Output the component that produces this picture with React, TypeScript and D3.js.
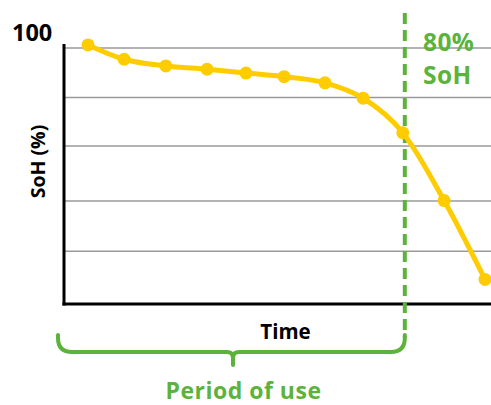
import React from "react";
import * as d3 from "d3";

const timePoints = [0, 0.91, 1.96, 3.0, 3.98, 4.94, 5.97, 6.93, 7.93, 8.97, 10.0];
const sohValues = [101.2, 95.6, 93.0, 91.7, 90.2, 88.8, 86.4, 80.4, 66.9, 40.4, 9.6];
const gridValues = [20.6, 40.2, 61.7, 80.7, 100];
const eolTime = 7.98;

const GREEN = "#5BB33B";
const GOLD = "#FFCC00";
const FONT = "'Open Sans', 'Noto Sans', sans-serif";

export default function App() {
  const W = 491;
  const H = 405;
  const x = d3.scaleLinear().domain([0, 10]).range([88, 485]);
  const y = d3.scaleLinear().domain([0, 100]).range([304, 48]);
  const axisLeft = 64;
  const axisBottom = 304;

  const pts = timePoints.map((t, i) => [x(t), y(sohValues[i])] as [number, number]);
  const line = d3.line().curve(d3.curveMonotoneX)(pts) || "";

  const ex = x(eolTime);
  const bx0 = 58;
  const by = 352;
  const cx = 233;
  const r = 14;
  const brace = [
    `M${bx0},335`,
    `L${bx0},${by - r}`,
    `Q${bx0},${by} ${bx0 + r},${by}`,
    `L${cx - 6},${by}`,
    `Q${cx},${by} ${cx},${by + 6}`,
    `L${cx},365`,
    `M${cx},${by + 6}`,
    `Q${cx},${by} ${cx + 6},${by}`,
    `L${ex - r},${by}`,
    `Q${ex},${by} ${ex},${by - r}`,
    `L${ex},335`,
  ].join(" ");

  return (
    <svg width={W} height={H} style={{ position: "absolute", left: 0, top: 0 }}>
      <rect width={W} height={H} fill="#fff" />
      {gridValues.map((g) => (
        <line key={g} x1={axisLeft} x2={W} y1={y(g)} y2={y(g)} stroke="#9a9a9a" strokeWidth={1.5} />
      ))}
      <line x1={axisLeft} x2={axisLeft} y1={44} y2={axisBottom + 1.5} stroke="#000" strokeWidth={3} />
      <line x1={axisLeft - 1.5} x2={W} y1={axisBottom} y2={axisBottom} stroke="#000" strokeWidth={3} />
      <text x={12} y={41} fontFamily={FONT} fontWeight={700} fontSize={23.5} fill="#000">100</text>
      <text
        transform={`translate(45,161.5) rotate(-90)`}
        textAnchor="middle"
        fontFamily={FONT}
        fontWeight={700}
        fontSize={19.5}
        fill="#000"
      >
        SoH (%)
      </text>
      <text x={285.5} y={338.5} textAnchor="middle" fontFamily={FONT} fontWeight={700} fontSize={20.5} fill="#000">Time</text>
      <line x1={ex} x2={ex} y1={13} y2={337} stroke={GREEN} strokeWidth={4} strokeDasharray="11 6" />
      <path d={line} fill="none" stroke={GOLD} strokeWidth={5} />
      {pts.map((p, i) => (
        <circle key={i} cx={p[0]} cy={p[1]} r={6.5} fill={GOLD} />
      ))}
      <text x={423} y={50.5} fontFamily={FONT} fontWeight={700} fontSize={24.5} letterSpacing={0.4} fill={GREEN}>80%</text>
      <text x={423} y={84} fontFamily={FONT} fontWeight={700} fontSize={24.5} letterSpacing={0.4} fill={GREEN}>SoH</text>
      <path d={brace} fill="none" stroke={GREEN} strokeWidth={4} strokeLinecap="round" />
      <text x={243.5} y={399} textAnchor="middle" fontFamily={FONT} fontWeight={700} fontSize={23} letterSpacing={0.5} fill={GREEN}>Period of use</text>
    </svg>
  );
}
